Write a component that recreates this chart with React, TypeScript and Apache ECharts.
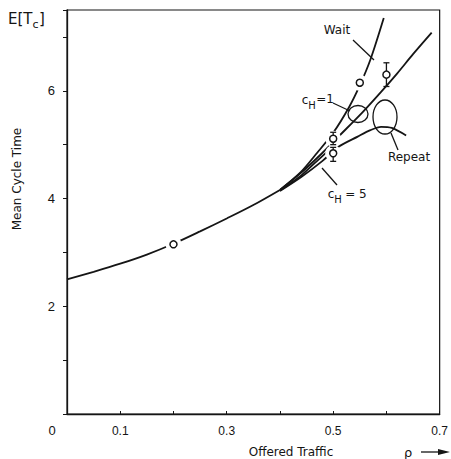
import React, { useEffect, useRef } from "react";
import * as echarts from "echarts";

// ---- data ----
const xMin = 0;
const xMax = 0.7;
const yMin = 0;
const yMax = 7.5;

const mainCurve: [number, number][] = [
  [0, 2.5], [0.05, 2.64], [0.1, 2.79], [0.15, 2.96], [0.2, 3.16],
  [0.25, 3.39], [0.3, 3.63], [0.35, 3.88], [0.4, 4.16],
];
const waitCH1: [number, number][] = [
  [0.4, 4.16], [0.44, 4.5], [0.47, 4.85], [0.5, 5.22], [0.53, 5.7],
  [0.55, 6.1], [0.57, 6.58], [0.595, 7.35],
];
const repeatCH1: [number, number][] = [
  [0.4, 4.16], [0.44, 4.48], [0.48, 4.85], [0.51, 5.15], [0.555, 5.6],
  [0.59, 5.98], [0.62, 6.32], [0.65, 6.68], [0.685, 7.08],
];
const waitCH5: [number, number][] = [
  [0.4, 4.15], [0.44, 4.43], [0.47, 4.7], [0.49, 4.88],
];
const repeatCH5: [number, number][] = [
  [0.4, 4.14], [0.44, 4.4], [0.48, 4.7], [0.51, 4.96], [0.546, 5.15],
  [0.57, 5.27], [0.59, 5.33], [0.61, 5.31], [0.637, 5.17],
];

// simulation points (open circles) and their confidence intervals
const simPoints: [number, number][] = [
  [0.2, 3.15], [0.5, 5.11], [0.5, 4.84], [0.55, 6.15], [0.6, 6.3],
];
const errorBars: [number, number, number][] = [
  [0.5, 5.0, 5.23], [0.5, 4.69, 4.95], [0.6, 6.08, 6.52],
];

const INK = "#151515";
const FONT = "DejaVu Sans";

export default function App() {
  const ref = useRef<HTMLDivElement>(null);

  useEffect(() => {
    if (!ref.current) return;
    const chart = echarts.init(ref.current, undefined, { renderer: "svg" });

    const curve = (data: [number, number][]) => ({
      type: "line",
      data,
      showSymbol: false,
      smooth: 0.3,
      lineStyle: { color: INK, width: 1.8 },
      z: 2,
      silent: true,
    });

    const txt = (x: number, y: number, text: string, size = 12, extra: any = {}) => ({
      type: "text",
      x,
      y,
      style: {
        text,
        fill: INK,
        font: `${size}px "${FONT}"`,
        textAlign: "center",
        textVerticalAlign: "middle",
        ...extra,
      },
      z: 10,
    });
    const ln = (x1: number, y1: number, x2: number, y2: number) => ({
      type: "line",
      shape: { x1, y1, x2, y2 },
      style: { stroke: INK, lineWidth: 1.3 },
      z: 10,
    });

    chart.setOption({
      animation: false,
      grid: {
        left: 67,
        right: 3,
        top: 10,
        bottom: 45,
        show: true,
        borderColor: INK,
        borderWidth: 1.2,
        backgroundColor: "transparent",
      },
      xAxis: {
        type: "value",
        min: xMin,
        max: xMax,
        interval: 0.1,
        axisLine: { show: true, lineStyle: { color: INK, width: 1.3 } },
        axisTick: { show: true, inside: true, length: 3, lineStyle: { color: INK } },
        splitLine: { show: false },
        axisLabel: {
          color: INK,
          fontFamily: "Liberation Sans",
          fontSize: 12,
          margin: 11,
          formatter: (v: number) => {
            const k = Math.round(v * 10);
            return k % 2 === 1 ? (k / 10).toFixed(1) : "";
          },
        },
      },
      yAxis: {
        type: "value",
        min: yMin,
        max: yMax,
        interval: 1,
        axisLine: { show: true, lineStyle: { color: INK, width: 1.3 } },
        axisTick: { show: true, inside: false, length: 4, lineStyle: { color: INK } },
        splitLine: { show: false },
        axisLabel: {
          color: INK,
          fontFamily: "Liberation Sans",
          fontSize: 13,
          margin: 12,
          formatter: (v: number) => (v > 0 && v % 2 === 0 ? String(v) : ""),
        },
      },
      series: [
        curve(mainCurve),
        curve(waitCH1),
        curve(repeatCH1),
        curve(waitCH5),
        curve(repeatCH5),
        {
          // white halos that break the curves around the simulation points
          type: "scatter",
          data: simPoints.slice(0, 4),
          symbol: "circle",
          symbolSize: 16,
          itemStyle: { color: "#ffffff", borderWidth: 0, opacity: 1 },
          z: 3,
          silent: true,
        },
        {
          type: "custom",
          data: errorBars,
          z: 4,
          silent: true,
          renderItem: (_p: any, api: any) => {
            const x = api.value(0);
            const top = api.coord([x, api.value(2)]);
            const bot = api.coord([x, api.value(1)]);
            const cap = 3;
            const st = { stroke: INK, lineWidth: 1.3 };
            return {
              type: "group",
              children: [
                { type: "line", shape: { x1: top[0], y1: top[1], x2: bot[0], y2: bot[1] }, style: st },
                { type: "line", shape: { x1: top[0] - cap, y1: top[1], x2: top[0] + cap, y2: top[1] }, style: st },
                { type: "line", shape: { x1: bot[0] - cap, y1: bot[1], x2: bot[0] + cap, y2: bot[1] }, style: st },
              ],
            };
          },
        },
        {
          type: "scatter",
          data: simPoints,
          symbol: "circle",
          symbolSize: 7,
          itemStyle: { color: "#ffffff", borderColor: INK, borderWidth: 1.5, opacity: 1 },
          z: 5,
          silent: true,
        },
      ],
      graphic: [
        // origin label
        txt(52, 430, "0", 13, { font: `13px "Liberation Sans"` }),
        // y title  E[Tc]
        txt(8, 19, "E[T", 15, { textAlign: "left" }),
        txt(35.5, 24, "c", 11),
        txt(42, 19, "]", 15),
        // y axis name
        {
          type: "text",
          x: 17,
          y: 179,
          rotation: Math.PI / 2,
          style: {
            text: "Mean Cycle Time",
            fill: INK,
            font: `12px "${FONT}"`,
            textAlign: "center",
            textVerticalAlign: "middle",
          },
          z: 10,
        },
        // x axis name
        txt(291, 452, "Offered Traffic", 12),
        txt(408, 452, "ρ", 13),
        ln(421, 452, 442, 452),
        {
          type: "polygon",
          shape: { points: [[438, 449], [450, 452], [438, 455]] },
          style: { fill: INK },
          z: 10,
        },
        // Wait label
        txt(337, 30, "Wait", 12),
        ln(353, 40, 374, 60),
        // cH=1 label
        txt(305, 100, "c", 12),
        txt(312, 105, "H", 10),
        txt(325, 99, "=1", 12),
        ln(333, 103, 350, 111),
        {
          type: "ellipse",
          shape: { cx: 358, cy: 114, rx: 10, ry: 8.5 },
          style: { stroke: INK, fill: "none", lineWidth: 1.3 },
          z: 10,
        },
        // Repeat label
        {
          type: "ellipse",
          shape: { cx: 385, cy: 117, rx: 12, ry: 17 },
          style: { stroke: INK, fill: "none", lineWidth: 1.3 },
          z: 10,
        },
        ln(391, 133, 398, 150),
        txt(409, 157, "Repeat", 12),
        // cH=5 label
        ln(322, 168, 337, 185),
        txt(331, 194, "c", 12),
        txt(338, 199, "H", 10),
        txt(356, 194, "= 5", 12),
      ],
    });

    return () => chart.dispose();
  }, []);

  return (
    <div
      ref={ref}
      style={{ position: "fixed", left: 0, top: 0, width: 451, height: 459, background: "#fff" }}
    />
  );
}
